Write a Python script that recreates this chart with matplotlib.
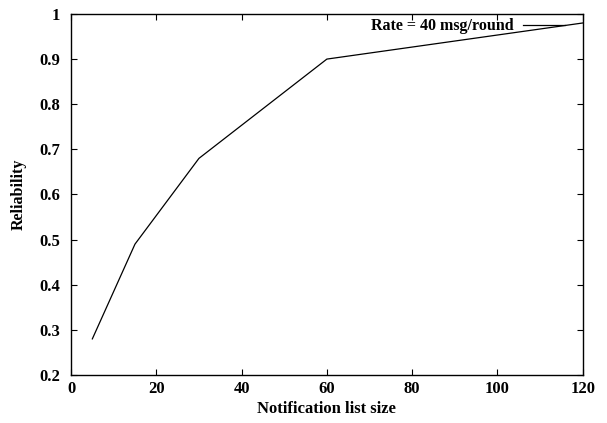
import matplotlib
matplotlib.use('Agg')
import matplotlib.pyplot as plt

list_size = [5, 15, 30, 60, 120]
reliability = [0.28, 0.49, 0.68, 0.90, 0.98]
x_ticks = [0, 20, 40, 60, 80, 100, 120]
y_ticks = [0.2, 0.3, 0.4, 0.5, 0.6, 0.7, 0.8, 0.9, 1.0]
y_labels = ['0.2', '0.3', '0.4', '0.5', '0.6', '0.7', '0.8', '0.9', '1']

plt.rcParams['font.family'] = ['Liberation Serif', 'DejaVu Serif']
plt.rcParams['font.weight'] = 'bold'

fig = plt.figure(figsize=(6.07, 4.23), dpi=100)
ax = fig.add_axes([0.117, 0.1135, 0.843, 0.8535])

ax.plot(list_size, reliability, color='black', lw=0.9, label='Rate = 40 msg/round')

ax.set_xlim(0, 120)
ax.set_ylim(0.2, 1.0)
ax.set_xticks(x_ticks)
ax.set_yticks(y_ticks)
ax.set_yticklabels(y_labels)
ax.tick_params(direction='in', top=True, right=True, length=4, width=0.8,
               labelsize=12)
ax.tick_params(axis='x', pad=4)
ax.tick_params(axis='y', pad=8)
for lbl in ax.get_xticklabels() + ax.get_yticklabels():
    lbl.set_fontweight('bold')
for s in ax.spines.values():
    s.set_linewidth(1.0)

ax.set_xlabel('Notification list size', fontsize=12, fontweight='bold', labelpad=3)
ax.set_ylabel('Reliability', fontsize=11.5, fontweight='bold', labelpad=9)

leg = ax.legend(loc='upper right', frameon=False, markerfirst=False,
                prop={'size': 11.5, 'weight': 'bold'}, handlelength=2.6,
                handletextpad=0.6, borderaxespad=0,
                bbox_to_anchor=(0.977, 1.006))

fig.savefig('out.png', dpi=100)
